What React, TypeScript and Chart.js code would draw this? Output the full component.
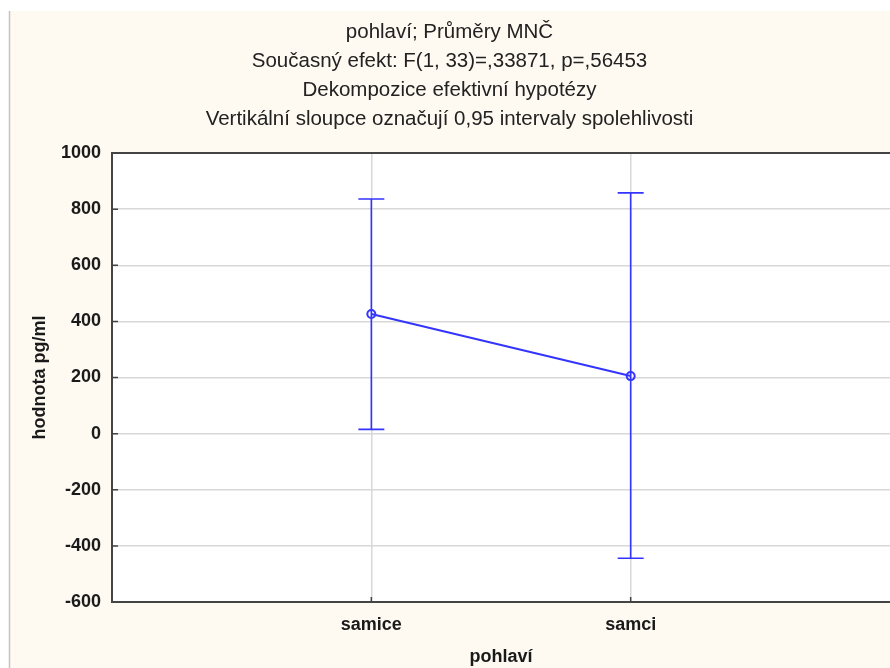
import React, { useEffect, useRef } from "react";
import { Chart, registerables } from "chart.js";

Chart.register(...registerables);

const titleLines = [
  "pohlaví; Průměry MNČ",
  "Současný efekt: F(1, 33)=,33871, p=,56453",
  "Dekompozice efektivní hypotézy",
  "Vertikální sloupce označují 0,95 intervaly spolehlivosti",
];
const xAxisTitle = "pohlaví";
const yAxisTitle = "hodnota pg/ml";

const categories = ["samice", "samci"];
const categoryPositions = [1, 2];
const means = [426, 205];
const ciLower = [15, -444];
const ciUpper = [836, 858];

const yMin = -600;
const yMax = 1000;
const yStep = 200;
const xMin = 0;
const xMax = 3;

const FONT = "'Liberation Sans', Arial, sans-serif";
const BLUE = "#3434ff";

const decorPlugin = {
  id: "decor",
  beforeDraw(chart: any) {
    const { ctx, width, height, chartArea } = chart;
    ctx.save();
    ctx.fillStyle = "#ffffff";
    ctx.fillRect(0, 0, width, height);
    ctx.fillStyle = "#fef9f1";
    ctx.fillRect(10, 11, width - 10, height - 11);
    ctx.strokeStyle = "#c4c4c4";
    ctx.lineWidth = 1.5;
    ctx.beginPath();
    ctx.moveTo(9.5, 11);
    ctx.lineTo(9.5, height);
    ctx.stroke();
    ctx.fillStyle = "#ffffff";
    ctx.fillRect(chartArea.left, chartArea.top, chartArea.right - chartArea.left, chartArea.bottom - chartArea.top);
    ctx.restore();
  },
  beforeDatasetsDraw(chart: any) {
    const { ctx, scales } = chart;
    const xs = scales.x;
    const ys = scales.y;
    ctx.save();
    ctx.strokeStyle = BLUE;
    ctx.lineWidth = 1.6;
    for (let i = 0; i < categoryPositions.length; i++) {
      const px = xs.getPixelForValue(categoryPositions[i]);
      const top = ys.getPixelForValue(ciUpper[i]);
      const bot = ys.getPixelForValue(ciLower[i]);
      ctx.beginPath();
      ctx.moveTo(px, top);
      ctx.lineTo(px, bot);
      ctx.moveTo(px - 13, top);
      ctx.lineTo(px + 13, top);
      ctx.moveTo(px - 13, bot);
      ctx.lineTo(px + 13, bot);
      ctx.stroke();
    }
    ctx.restore();
  },
  afterDraw(chart: any) {
    const { ctx, chartArea, scales } = chart;
    ctx.save();
    ctx.strokeStyle = "#444444";
    ctx.lineWidth = 2;
    ctx.beginPath();
    ctx.moveTo(chartArea.left, chartArea.top);
    ctx.lineTo(chartArea.right, chartArea.top);
    ctx.stroke();
    ctx.lineWidth = 1.5;
    ctx.beginPath();
    for (let v = yMin + yStep; v < yMax; v += yStep) {
      const py = scales.y.getPixelForValue(v);
      ctx.moveTo(chartArea.left, py);
      ctx.lineTo(chartArea.left + 6, py);
    }
    for (const p of categoryPositions) {
      const px = scales.x.getPixelForValue(p);
      ctx.moveTo(px, chartArea.bottom);
      ctx.lineTo(px, chartArea.bottom - 5);
    }
    ctx.stroke();
    ctx.restore();
  },
};

export default function App() {
  const ref = useRef<HTMLCanvasElement>(null);
  useEffect(() => {
    if (!ref.current) return;
    const chart = new Chart(ref.current, {
      type: "line",
      data: {
        datasets: [
          {
            data: categoryPositions.map((x, i) => ({ x, y: means[i] })),
            borderColor: BLUE,
            borderWidth: 2,
            pointRadius: 4,
            pointBorderWidth: 2,
            pointBorderColor: BLUE,
            pointBackgroundColor: "rgba(0,0,0,0)",
            fill: false,
            tension: 0,
          },
        ],
      },
      options: {
        responsive: false,
        animation: false,
        devicePixelRatio: 1,
        layout: { autoPadding: false, padding: { left: 9, right: 0, top: 0, bottom: 0 } },
        plugins: {
          legend: { display: false },
          tooltip: { enabled: false },
          title: {
            display: true,
            text: titleLines,
            color: "#222222",
            font: { family: FONT, size: 20.5, weight: "normal", lineHeight: 29 / 20.5 },
            padding: { top: 18, bottom: 19 },
          },
        },
        scales: {
          x: {
            type: "linear",
            min: xMin,
            max: xMax,
            afterFit: (s: any) => {
              s.height = 66;
              s.paddingLeft = 0;
              s.paddingRight = 0;
            },
            afterBuildTicks: (s: any) => {
              s.ticks = [0, 1, 2, 3].map((v) => ({ value: v }));
            },
            ticks: {
              stepSize: 1,
              padding: 12,
              color: "#1a1a1a",
              font: { family: FONT, size: 18, weight: "bold" },
              callback: (v: any) => {
                const i = categoryPositions.indexOf(Number(v));
                return i >= 0 ? categories[i] : "";
              },
              maxRotation: 0,
              autoSkip: false,
            },
            grid: {
              drawTicks: false,
              lineWidth: 1.5,
              color: (c: any) =>
                categoryPositions.includes(c.tick?.value) ? "#d8d8d8" : "rgba(0,0,0,0)",
            },
            border: { display: true, color: "#444444", width: 2 },
            title: {
              display: true,
              text: xAxisTitle,
              color: "#1a1a1a",
              font: { family: FONT, size: 18, weight: "bold" },
              padding: { top: 0, bottom: 0 },
            },
          },
          y: {
            type: "linear",
            min: yMin,
            max: yMax,
            afterFit: (s: any) => {
              s.width = 103;
            },
            ticks: {
              stepSize: yStep,
              padding: 11,
              color: "#1a1a1a",
              font: { family: FONT, size: 18, weight: "bold" },
              callback: (v: any) => String(v),
            },
            grid: {
              drawTicks: false,
              lineWidth: 1.5,
              color: (c: any) =>
                c.tick && c.tick.value > yMin && c.tick.value < yMax ? "#d8d8d8" : "rgba(0,0,0,0)",
            },
            border: { display: true, color: "#444444", width: 2 },
            title: {
              display: true,
              text: yAxisTitle,
              color: "#1a1a1a",
              font: { family: FONT, size: 18, weight: "bold" },
              padding: { top: 20, bottom: 0 },
            },
          },
        },
      },
      plugins: [decorPlugin],
    });
    return () => chart.destroy();
  }, []);
  return (
    <canvas
      ref={ref}
      width={890}
      height={668}
      style={{ position: "absolute", left: 0, top: 0, width: 890, height: 668 }}
    />
  );
}
